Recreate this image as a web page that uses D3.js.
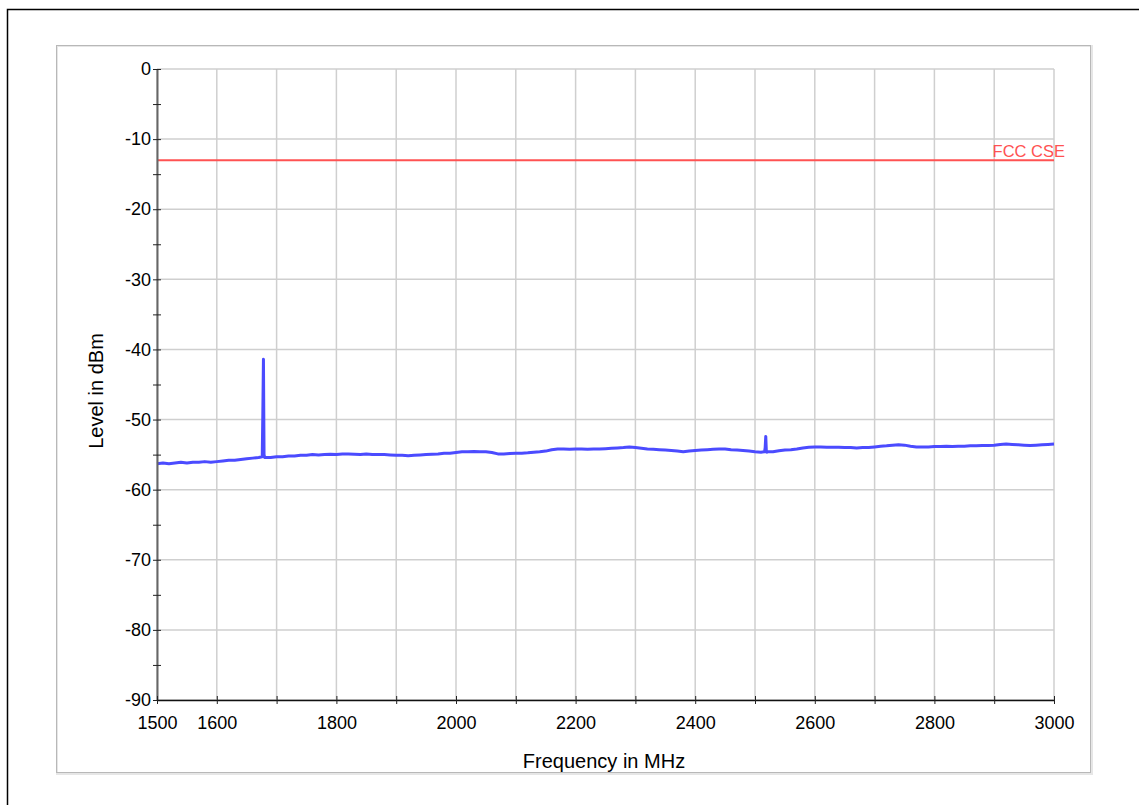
<!DOCTYPE html>
<html>
<head>
<meta charset="utf-8">
<script src="https://cdn.jsdelivr.net/npm/d3@7"></script>
<style>
  body { margin: 0; background: #fff; }
  svg { display: block; font-family: "Liberation Sans", Arial, sans-serif; }
</style>
</head>
<body>
<div class="container"></div>
<script>
// trace sampled every 10 MHz from 1500 to 3000
const freqStart = 1500
const freqStep = 10
const levels = [
  -56.3, -56.2, -56.3, -56.2, -56.1, -56.2, -56.1, -56.1, -56.0, -56.1,
  -56.0, -55.9, -55.8, -55.8, -55.7, -55.6, -55.5, -55.4, -55.4, -55.4,
  -55.3, -55.3, -55.2, -55.2, -55.1, -55.1, -55.0, -55.05, -55.0, -54.95,
  -55.0, -54.9, -54.9, -54.95, -55.0, -54.9, -55.0, -55.0, -55.0, -55.05,
  -55.1, -55.1, -55.15, -55.1, -55.05, -55.0, -54.95, -54.9, -54.8, -54.8,
  -54.7, -54.6, -54.6, -54.55, -54.6, -54.6, -54.7, -54.9, -54.9, -54.85,
  -54.8, -54.8, -54.75, -54.65, -54.6, -54.5, -54.3, -54.2, -54.2, -54.25,
  -54.2, -54.2, -54.25, -54.2, -54.2, -54.15, -54.1, -54.05, -54.0, -53.9,
  -54.0, -54.1, -54.2, -54.25, -54.3, -54.35, -54.4, -54.5, -54.6, -54.5,
  -54.4, -54.35, -54.3, -54.25, -54.2, -54.2, -54.3, -54.35, -54.4, -54.5,
  -54.6, -54.65, -54.65, -54.6, -54.45, -54.35, -54.3, -54.2, -54.05, -53.95,
  -53.9, -53.9, -53.95, -53.95, -53.95, -54.0, -54.0, -54.05, -54.0, -54.0,
  -53.9, -53.8, -53.75, -53.65, -53.6, -53.65, -53.8, -53.9, -53.9, -53.9,
  -53.85, -53.85, -53.8, -53.85, -53.8, -53.8, -53.75, -53.75, -53.7, -53.7,
  -53.65, -53.55, -53.5, -53.55, -53.6, -53.65, -53.7, -53.65, -53.6, -53.55,
  -53.5
]
// narrow spurs inserted between the 10 MHz samples
const spurFreqs = [1676, 1677, 1678, 1679, 1680, 2516, 2517, 2518, 2519, 2520]
const spurLevels = [-55.3, -49.0, -41.4, -55.0, -55.4, -54.6, -54.0, -52.4, -54.6, -54.6]

const limitLevel = -13
const limitLabel = 'FCC CSE'

const xTicks = [1500, 1600, 1700, 1800, 1900, 2000, 2100, 2200, 2300, 2400, 2500, 2600, 2700, 2800, 2900, 3000]
const xLabels = [1500, 1600, 1800, 2000, 2200, 2400, 2600, 2800, 3000]
const yMajor = [0, -10, -20, -30, -40, -50, -60, -70, -80, -90]
const yMinor = [-5, -15, -25, -35, -45, -55, -65, -75, -85]

const width = 1139
const height = 805

const points = levels.map((v, i) => [freqStart + i * freqStep, v])
  .concat(spurFreqs.map((f, i) => [f, spurLevels[i]]))
  .sort((a, b) => a[0] - b[0])

const xScale = d3.scaleLinear().domain([1500, 3000]).range([157, 1054])
const yScale = d3.scaleLinear().domain([-90, 0]).range([700, 69])

const svg = d3.select('.container')
  .append('svg')
  .attr('width', width)
  .attr('height', height)

svg.append('rect')
  .attr('x', 7.5).attr('y', 9.5)
  .attr('width', width + 20).attr('height', height + 20)
  .attr('fill', 'none').attr('stroke', '#000').attr('stroke-width', 1.5)

svg.append('rect')
  .attr('x', 57).attr('y', 46)
  .attr('width', 1035).attr('height', 728)
  .attr('fill', 'none').attr('stroke', '#e6e6e6').attr('stroke-width', 2)
svg.append('rect')
  .attr('x', 56.5).attr('y', 45.5)
  .attr('width', 1034).attr('height', 727)
  .attr('fill', 'none').attr('stroke', '#b8b8b8').attr('stroke-width', 1)

// grid
svg.append('g')
  .selectAll('line')
  .data(xTicks)
  .enter()
  .append('line')
  .attr('x1', d => xScale(d)).attr('x2', d => xScale(d))
  .attr('y1', yScale(0)).attr('y2', yScale(-90))
  .attr('stroke', '#cfcfcf').attr('stroke-width', 1.5)

svg.append('g')
  .selectAll('line')
  .data(yMajor)
  .enter()
  .append('line')
  .attr('x1', xScale(1500)).attr('x2', xScale(3000))
  .attr('y1', d => yScale(d)).attr('y2', d => yScale(d))
  .attr('stroke', '#cfcfcf').attr('stroke-width', 1.5)

// limit line
svg.append('line')
  .attr('x1', xScale(1500)).attr('x2', xScale(3000))
  .attr('y1', yScale(limitLevel)).attr('y2', yScale(limitLevel))
  .attr('stroke', '#ff5252').attr('stroke-width', 2)

svg.append('text')
  .attr('x', 1065).attr('y', yScale(limitLevel) - 3)
  .attr('text-anchor', 'end')
  .attr('font-size', 16.5)
  .attr('fill', '#ff5252')
  .text(limitLabel)

// trace
const line = d3.line()
  .x(d => xScale(d[0]))
  .y(d => yScale(d[1]))

svg.append('path')
  .datum(points)
  .attr('d', line)
  .attr('fill', 'none')
  .attr('stroke', '#4b4bff')
  .attr('stroke-width', 3)
  .attr('stroke-linejoin', 'round')

// y axis
const yAxis = d3.axisLeft(yScale)
  .tickValues(yMajor.concat(yMinor))
  .tickSizeInner(4)
  .tickSizeOuter(0)
  .tickFormat(d => yMajor.includes(d) ? d : '')

const yG = svg.append('g')
  .attr('transform', `translate(${xScale(1500)}, 0)`)
  .call(yAxis)
yG.select('.domain').attr('stroke', '#666').attr('stroke-width', 2)
yG.selectAll('.tick line').attr('x1', 4).attr('stroke', '#222')
yG.selectAll('.tick text')
  .attr('x', -6)
  .attr('font-size', 18)
  .attr('font-family', '"Liberation Sans", Arial, sans-serif')
  .attr('fill', '#000')

// x axis
const xAxis = d3.axisBottom(xScale)
  .tickValues(xTicks)
  .tickSizeInner(4)
  .tickSizeOuter(0)
  .tickFormat(d => xLabels.includes(d) ? d : '')

const xG = svg.append('g')
  .attr('transform', `translate(0, ${yScale(-90)})`)
  .call(xAxis)
xG.select('.domain').attr('stroke', '#111').attr('stroke-width', 1.5)
xG.selectAll('.tick line').attr('y1', -4).attr('stroke', '#222')
xG.selectAll('.tick text')
  .attr('y', 16)
  .attr('font-size', 18)
  .attr('font-family', '"Liberation Sans", Arial, sans-serif')
  .attr('fill', '#000')

// axis titles
svg.append('text')
  .attr('x', 604).attr('y', 768)
  .attr('text-anchor', 'middle')
  .attr('font-size', 20)
  .attr('fill', '#000')
  .text('Frequency in MHz')

svg.append('text')
  .attr('transform', 'translate(103, 391) rotate(-90)')
  .attr('text-anchor', 'middle')
  .attr('font-size', 20)
  .attr('fill', '#000')
  .text('Level in dBm')
</script>
</body>
</html>
